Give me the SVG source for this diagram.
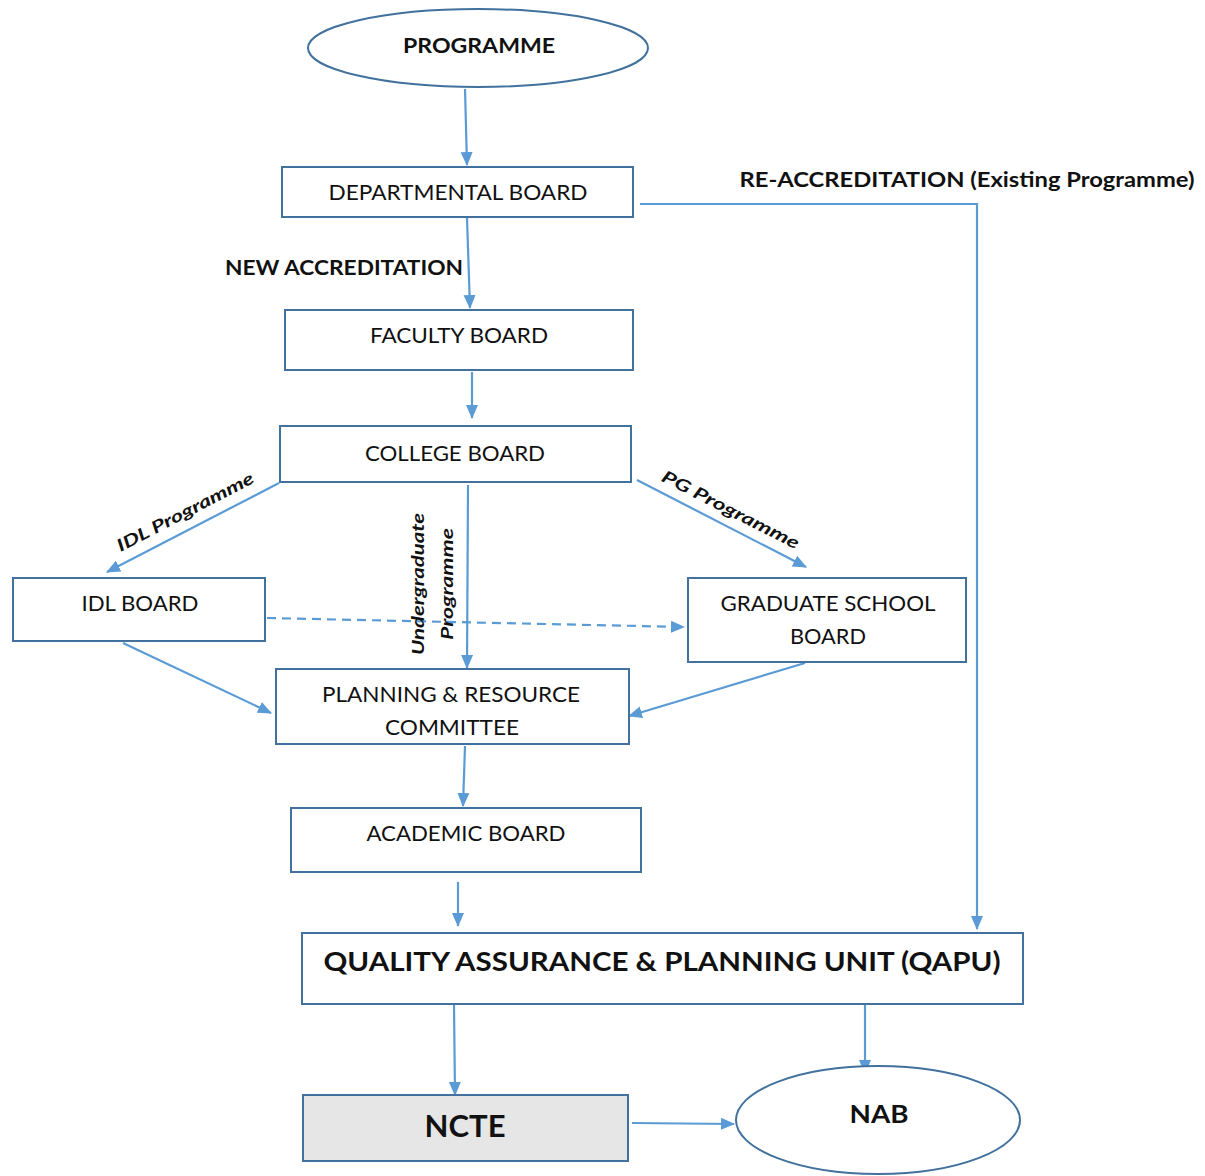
<svg xmlns="http://www.w3.org/2000/svg" width="1205" height="1176" viewBox="0 0 1205 1176">
<style>
.box{fill:#ffffff;stroke:#41719c;stroke-width:2}
.grey{fill:#e6e6e6;stroke:#41719c;stroke-width:2}
.t{font-family:Lato,"Liberation Sans",sans-serif;font-size:21px;fill:#111;text-anchor:middle}
.b{font-weight:bold}
.lbl{font-family:Lato,"Liberation Sans",sans-serif;font-size:17px;font-weight:bold;font-style:italic;fill:#111;text-anchor:middle}
.c{fill:none;stroke:#5b9bd5;stroke-width:2.2}
.d{stroke-dasharray:9 6}
</style>
<defs>
<marker id="ah" markerUnits="userSpaceOnUse" markerWidth="14" markerHeight="14" viewBox="0 0 14 14" refX="13" refY="7" orient="auto">
<path d="M0,1 L14,7 L0,13 Z" fill="#5b9bd5"/>
</marker>
</defs>
<rect width="1205" height="1176" fill="#ffffff"/>
<g id="connectors">
<line class="c" x1="465" y1="89" x2="467" y2="165" marker-end="url(#ah)"/>
<line class="c" x1="467" y1="218" x2="470" y2="308" marker-end="url(#ah)"/>
<line class="c" x1="472" y1="372" x2="472" y2="418" marker-end="url(#ah)"/>
<line class="c" x1="279" y1="483" x2="107" y2="572" marker-end="url(#ah)"/>
<line class="c" x1="468" y1="485" x2="467" y2="668" marker-end="url(#ah)"/>
<line class="c" x1="637" y1="480" x2="806" y2="567" marker-end="url(#ah)"/>
<line class="c d" x1="267" y1="618" x2="684" y2="627" marker-end="url(#ah)"/>
<line class="c" x1="123" y1="643" x2="271" y2="713" marker-end="url(#ah)"/>
<line class="c" x1="805" y1="663" x2="629" y2="716" marker-end="url(#ah)"/>
<line class="c" x1="465" y1="746" x2="463" y2="806" marker-end="url(#ah)"/>
<line class="c" x1="458" y1="882" x2="458" y2="926" marker-end="url(#ah)"/>
<polyline class="c" points="640,204 977,204 977,929" marker-end="url(#ah)"/>
<line class="c" x1="454" y1="1005" x2="455" y2="1095" marker-end="url(#ah)"/>
<line class="c" x1="865" y1="1005" x2="865" y2="1073" marker-end="url(#ah)"/>
<line class="c" x1="632" y1="1123" x2="734" y2="1124" marker-end="url(#ah)"/>
<text class="t b" x="344" y="275" textLength="238" lengthAdjust="spacingAndGlyphs">NEW ACCREDITATION</text>
<text class="t b" x="967" y="187" textLength="455" lengthAdjust="spacingAndGlyphs">RE-ACCREDITATION (Existing Programme)</text>
<text class="lbl" transform="translate(188,517) rotate(-27.5)" textLength="152" lengthAdjust="spacingAndGlyphs">IDL Programme</text>
<text class="lbl" transform="translate(728,515) rotate(27)" textLength="152" lengthAdjust="spacingAndGlyphs">PG Programme</text>
<text class="lbl" transform="translate(424,584) rotate(-90)" textLength="142" lengthAdjust="spacingAndGlyphs">Undergraduate</text>
<text class="lbl" transform="translate(453,584) rotate(-90)" textLength="112" lengthAdjust="spacingAndGlyphs">Programme</text>
</g>
<g id="programme">
<ellipse class="box" cx="478" cy="48" rx="170" ry="39"/>
<text class="t b" x="479" y="53" textLength="152" lengthAdjust="spacingAndGlyphs">PROGRAMME</text>
</g>
<g id="departmental-board">
<rect class="box" x="282" y="167" width="351" height="50"/>
<text class="t" x="458" y="200" textLength="259" lengthAdjust="spacingAndGlyphs">DEPARTMENTAL BOARD</text>
</g>
<g id="faculty-board">
<rect class="box" x="285" y="310" width="348" height="60"/>
<text class="t" x="459" y="343" textLength="178" lengthAdjust="spacingAndGlyphs">FACULTY BOARD</text>
</g>
<g id="college-board">
<rect class="box" x="280" y="426" width="351" height="56"/>
<text class="t" x="455" y="461" textLength="180" lengthAdjust="spacingAndGlyphs">COLLEGE BOARD</text>
</g>
<g id="idl-board">
<rect class="box" x="13" y="578" width="252" height="63"/>
<text class="t" x="140" y="611" textLength="117" lengthAdjust="spacingAndGlyphs">IDL BOARD</text>
</g>
<g id="graduate-school-board">
<rect class="box" x="688" y="578" width="278" height="84"/>
<text class="t" x="828" y="611" textLength="215" lengthAdjust="spacingAndGlyphs">GRADUATE SCHOOL</text>
<text class="t" x="828" y="644" textLength="76" lengthAdjust="spacingAndGlyphs">BOARD</text>
</g>
<g id="planning-resource-committee">
<rect class="box" x="276" y="669" width="353" height="75"/>
<text class="t" x="451" y="702" textLength="258" lengthAdjust="spacingAndGlyphs">PLANNING &amp; RESOURCE</text>
<text class="t" x="452" y="735" textLength="134" lengthAdjust="spacingAndGlyphs">COMMITTEE</text>
</g>
<g id="academic-board">
<rect class="box" x="291" y="808" width="350" height="64"/>
<text class="t" x="466" y="841" textLength="199" lengthAdjust="spacingAndGlyphs">ACADEMIC BOARD</text>
</g>
<g id="qapu">
<rect class="box" x="302" y="933" width="721" height="71"/>
<text class="t b" x="662" y="971" style="font-size:27px" textLength="677" lengthAdjust="spacingAndGlyphs">QUALITY ASSURANCE &amp; PLANNING  UNIT (QAPU)</text>
</g>
<g id="ncte">
<rect class="grey" x="303" y="1095" width="325" height="66"/>
<text class="t b" x="465" y="1137" style="font-size:31px" textLength="81" lengthAdjust="spacingAndGlyphs">NCTE</text>
</g>
<g id="nab">
<ellipse class="box" cx="878" cy="1120" rx="142" ry="54"/>
<text class="t b" x="879" y="1123" style="font-size:25px" textLength="59" lengthAdjust="spacingAndGlyphs">NAB</text>
</g>
</svg>
